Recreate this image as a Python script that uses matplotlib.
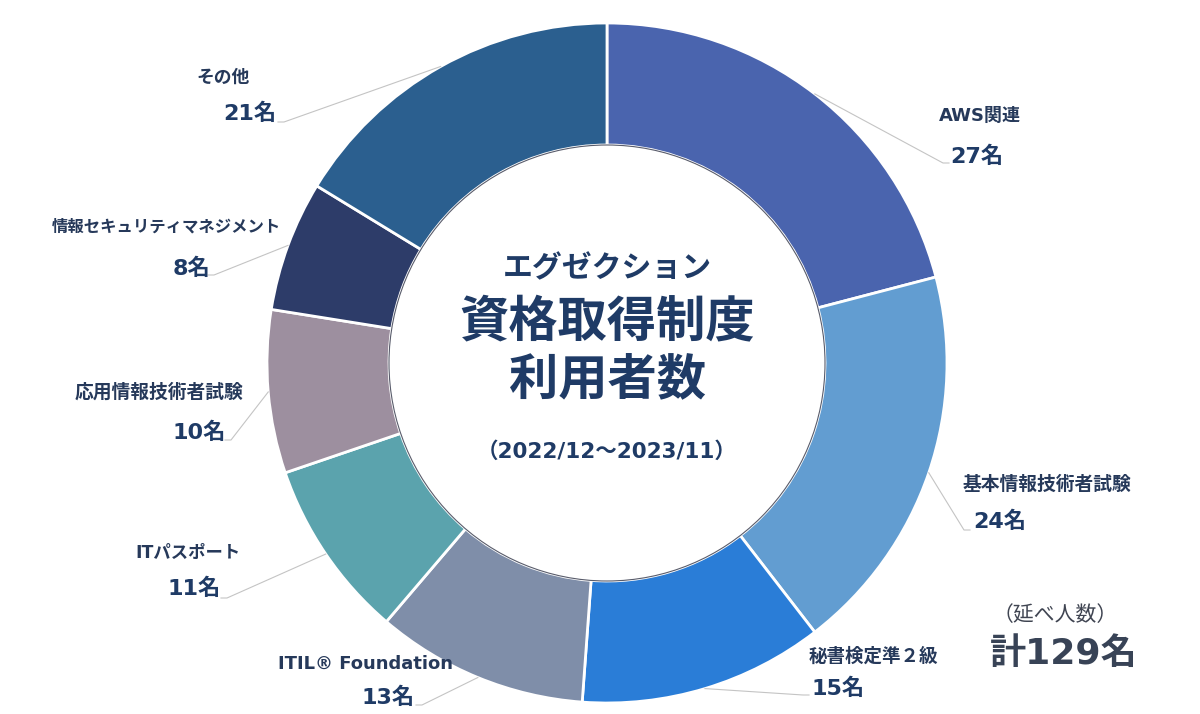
import numpy as np
import matplotlib
matplotlib.use("Agg")
import matplotlib.pyplot as plt

plt.rcParams['font.family'] = ['Noto Sans CJK JP', 'DejaVu Sans']
LATIN_FIRST = ['DejaVu Sans', 'Noto Sans CJK JP']

# データ
categories = ['AWS関連', '基本情報技術者試験', '秘書検定準２級', 'ITIL® Foundation',
              'ITパスポート', '応用情報技術者試験', '情報セキュリティマネジメント', 'その他']
counts = [27, 24, 15, 13, 11, 10, 8, 21]
colors = ['#4a64ae', '#629dd1', '#2a7dd7', '#7f8ea9',
          '#5ba3ad', '#9d8f9f', '#2d3c69', '#2b5f8f']
title_lines = ['エグゼクション', '資格取得制度', '利用者数']
period = '（2022/12～2023/11）'
total_note = '（延べ人数）'

W, H = 1200, 714
cx, cy = 607, H - 363
R, R_in = 340, 218

# ラベル配置（画像座標: 名前の中心, 値の中心, 引き出し線の終点）
name_pos = [(980, 116), (1047, 484), (873, 657), (365, 664),
            (188, 553), (159, 392), (166, 227), (223, 78)]
name_size = [13, 13.5, 13.3, 13, 12.5, 13.5, 11.8, 12.8]
value_pos = [(977, 156), (1000, 521), (838, 688), (388, 697),
             (194, 588), (199, 432), (191, 268), (250, 113)]
line_end = [(943, 163), (964, 530), (803, 695), (422, 705),
            (227, 598), (231, 440), (214, 275), (284, 122)]

fig = plt.figure(figsize=(W / 100, H / 100), dpi=100)
ax = fig.add_axes([0, 0, 1, 1])

wedges, _ = ax.pie(counts, colors=colors, startangle=90, counterclock=False,
                   radius=R, center=(cx, cy),
                   wedgeprops=dict(width=R - R_in, edgecolor='white', linewidth=2))
ax.add_patch(plt.Circle((cx, cy), R_in, fill=False, edgecolor='#2f3346',
                        linewidth=0.8, alpha=0.8, zorder=3))

txt_col = '#1f3b66'
for w, cat, n, npos, fs, vpos, lend in zip(wedges, categories, counts,
                                           name_pos, name_size, value_pos, line_end):
    mid = np.deg2rad((w.theta1 + w.theta2) / 2)
    x0, y0 = cx + R * np.cos(mid), cy + R * np.sin(mid)
    ex, ey = lend[0], H - lend[1]
    tail = 6 if ex > cx else -6
    ax.plot([x0, ex, ex + tail], [y0, ey, ey], color='#c4c4c4', lw=0.8, zorder=1)
    ax.text(npos[0], H - npos[1], cat, ha='center', va='center', family=LATIN_FIRST,
            fontsize=fs, fontweight='bold', color='#26395a')
    ax.text(vpos[0], H - vpos[1], f'{n}名', ha='center', va='center', family=LATIN_FIRST,
            fontsize=16, fontweight='bold', color=txt_col)

# 中央のタイトル
ax.text(cx, H - 268, title_lines[0], ha='center', va='center',
        fontsize=21.5, fontweight='bold', color=txt_col)
ax.text(cx, H - 322, title_lines[1], ha='center', va='center',
        fontsize=35.5, fontweight='bold', color=txt_col)
ax.text(cx, H - 380, title_lines[2], ha='center', va='center',
        fontsize=35.5, fontweight='bold', color=txt_col)
ax.text(cx, H - 452, period, ha='center', va='center', family=LATIN_FIRST,
        fontsize=15.5, fontweight='bold', color=txt_col)

# 合計
total = sum(counts)
ax.text(1055, H - 615, total_note, ha='center', va='center',
        fontsize=15, color='#404552')
ax.text(1064, H - 654, f'計{total}名', ha='center', va='center', family=LATIN_FIRST,
        fontsize=26, fontweight='bold', color='#384356')

ax.set_xlim(0, W)
ax.set_ylim(0, H)
ax.set_aspect('equal')
ax.axis('off')

fig.savefig('out.png', dpi=100, facecolor='white')
